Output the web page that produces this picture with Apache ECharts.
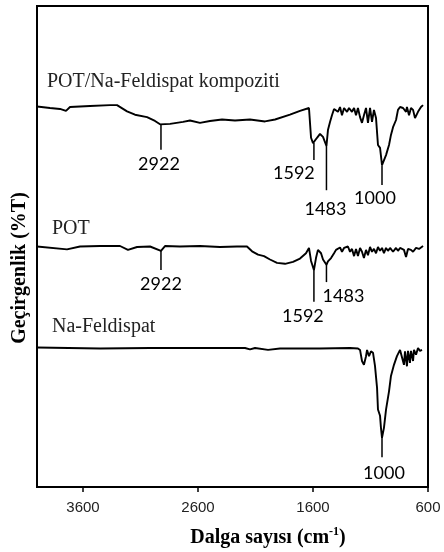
<!DOCTYPE html>
<html>
<head>
<meta charset="utf-8">
<script src="https://cdn.jsdelivr.net/npm/echarts@6/dist/echarts.min.js"></script>
<style>
  html, body { margin: 0; padding: 0; background: #fff; }
  #chart { width: 444px; height: 552px; }
</style>
</head>
<body>
<div id="chart"></div>
<script>
// wavenumber ticks on the reversed x axis
const xTicks = [3600, 2600, 1600, 600];

const seriesNames = ['POT/Na-Feldispat kompoziti', 'POT', 'Na-Feldispat'];

// [wavenumber cm-1, transmittance (arbitrary offset %T)]
const compositeSpectrum = [
  [4000, 79.1], [3887, 78.8], [3800, 78.6], [3748, 78.2], [3713, 79.0], [3539, 79.2],
  [3365, 79.4], [3304, 79.4], [3217, 78.1], [3148, 77.4], [3043, 76.9], [2974, 76.1],
  [2930, 75.4], [2843, 75.5], [2730, 75.9], [2670, 76.2], [2583, 75.7], [2496, 76.1],
  [2391, 76.4], [2278, 76.2], [2148, 76.4], [2017, 76.0], [1930, 76.4], [1800, 77.4],
  [1713, 78.2], [1635, 78.8], [1626, 79.1], [1617, 72.6], [1600, 71.5], [1583, 71.7],
  [1565, 72.6], [1539, 73.4], [1513, 72.8], [1483, 70.9], [1470, 74.2], [1452, 75.9],
  [1435, 77.3], [1417, 78.6], [1400, 79.0], [1383, 78.0], [1365, 79.0], [1348, 77.3],
  [1330, 78.8], [1304, 78.0], [1287, 78.8], [1261, 78.0], [1243, 78.8], [1226, 77.3],
  [1209, 78.8], [1191, 76.9], [1174, 75.7], [1157, 77.3], [1139, 78.8], [1122, 75.7],
  [1104, 78.8], [1087, 75.9], [1070, 78.4], [1052, 76.7], [1035, 71.1], [1017, 70.5],
  [1000, 66.9], [965, 69.0], [939, 71.1], [922, 73.2], [904, 74.8], [878, 76.3],
  [861, 78.4], [843, 79.0], [817, 78.8], [791, 78.0], [783, 79.0], [765, 77.3],
  [748, 78.8], [730, 78.4], [713, 76.7], [687, 78.0], [661, 79.0], [643, 79.4]
];

const potSpectrum = [
  [4000, 50.0], [3739, 49.4], [3626, 50.0], [3452, 50.1], [3278, 50.1], [3209, 49.3],
  [3130, 49.9], [3017, 50.0], [2922, 49.1], [2887, 50.1], [2757, 50.0], [2583, 50.1],
  [2409, 49.9], [2261, 50.0], [2174, 50.0], [2130, 49.0], [2078, 48.3], [2026, 48.0],
  [1974, 47.3], [1913, 46.6], [1843, 46.4], [1774, 46.8], [1713, 47.5], [1661, 48.6],
  [1635, 49.7], [1617, 47.0], [1592, 45.1], [1574, 47.6], [1557, 49.3], [1530, 48.6],
  [1513, 47.3], [1483, 46.2], [1470, 46.9], [1443, 47.6], [1417, 48.6], [1400, 49.3],
  [1383, 49.0], [1365, 49.8], [1348, 48.9], [1330, 49.7], [1313, 49.3], [1296, 50.0],
  [1278, 48.9], [1261, 49.5], [1243, 48.0], [1226, 49.5], [1209, 48.0], [1191, 49.7],
  [1174, 48.9], [1157, 47.6], [1139, 49.3], [1122, 48.2], [1104, 49.9], [1087, 48.9],
  [1070, 49.5], [1052, 48.6], [1035, 49.9], [1017, 49.1], [1000, 49.7], [983, 48.6],
  [965, 49.7], [948, 49.1], [930, 49.7], [904, 48.9], [878, 49.7], [861, 49.1],
  [843, 49.7], [809, 49.3], [791, 47.8], [774, 49.5], [748, 49.3], [730, 48.9],
  [704, 49.7], [678, 49.5], [643, 50.1]
];

const feldsparSpectrum = [
  [4000, 29.0], [3452, 28.8], [3017, 28.9], [2583, 28.9], [2191, 28.9], [2148, 28.6],
  [2104, 28.9], [1991, 28.5], [1887, 28.8], [1713, 28.8], [1539, 28.8], [1278, 28.9],
  [1209, 28.8], [1191, 28.5], [1174, 26.2], [1157, 25.4], [1139, 27.2], [1130, 28.5],
  [1113, 27.2], [1096, 28.2], [1078, 27.9], [1061, 25.2], [1043, 20.6], [1035, 16.1],
  [1017, 14.8], [1009, 12.3], [1000, 10.2], [983, 12.3], [965, 16.1], [939, 19.9],
  [922, 23.1], [896, 25.4], [870, 27.2], [843, 28.5], [826, 28.9], [809, 25.4],
  [800, 28.2], [783, 25.1], [774, 28.3], [757, 25.8], [748, 28.3], [730, 26.2],
  [722, 28.5], [704, 27.5], [687, 28.9], [670, 28.3], [652, 28.5]
];

// peak markers: [wavenumber, top of marker, bottom of marker]
const compositePeaks = [[2922, 75.3, 70.1], [1592, 71.5, 68.0], [1483, 70.9, 61.7], [1000, 66.9, 62.8]];
const potPeaks = [[2922, 49.1, 45.1], [1592, 45.1, 38.5], [1483, 46.2, 42.6]];
const feldsparPeaks = [[1000, 10.2, 6.2]];

// label nudges in px (layout only)
const compositeShift = [[-2, 8], [-20, 7], [-1, 13], [-7, 7]];
const potShift = [[0, 8], [-11, 8], [17, 8]];
const feldsparShift = [[2, 10]];

const chart = echarts.init(document.getElementById('chart'));

function peakSeries(data, shifts) {
  return {
    type: 'custom',
    data: data,
    encode: { x: 0, y: 1 },
    silent: true,
    z: 3,
    renderItem: function (params, api) {
      const top = api.coord([api.value(0), api.value(1)]);
      const bot = api.coord([api.value(0), api.value(2)]);
      const s = shifts[params.dataIndex];
      return {
        type: 'group',
        children: [
          {
            type: 'line',
            shape: { x1: top[0], y1: top[1], x2: bot[0], y2: bot[1] },
            style: { stroke: '#000', lineWidth: 1.5 }
          },
          {
            type: 'text',
            x: bot[0] + s[0],
            y: bot[1] + s[1] - 3,
            style: {
              text: String(api.value(0)),
              font: '18px Lato',
              fill: '#000',
              align: 'center',
              verticalAlign: 'top'
            }
          }
        ]
      };
    }
  };
}

function spectrum(name, data) {
  return {
    name: name,
    type: 'line',
    data: data,
    showSymbol: false,
    smooth: false,
    lineStyle: { color: '#000', width: 1.9 },
    z: 2
  };
}

const serifLabel = '20px "Liberation Serif"';

const option = {
  animation: false,
  grid: {
    left: 37, right: 16, top: 6, bottom: 65,
    show: true, borderColor: '#000', borderWidth: 2
  },
  xAxis: {
    type: 'value',
    inverse: true,
    min: 600,
    max: 4000,
    splitLine: { show: false },
    axisLine: { show: true, lineStyle: { color: '#000', width: 2 } },
    axisTick: { show: true, customValues: xTicks, length: 5, lineStyle: { color: '#000', width: 1.5 } },
    axisLabel: {
      customValues: xTicks,
      formatter: (v) => String(v),
      margin: 13,
      color: '#222',
      fontSize: 15,
      fontFamily: '"Liberation Sans", Arial, sans-serif'
    }
  },
  yAxis: {
    type: 'value',
    min: 0,
    max: 100,
    axisLine: { show: false },
    axisTick: { show: false },
    axisLabel: { show: false },
    splitLine: { show: false }
  },
  graphic: [
    {
      type: 'text', x: 47, y: 82,
      style: { text: seriesNames[0], font: serifLabel, fill: '#222', align: 'left', verticalAlign: 'middle' }
    },
    {
      type: 'text', x: 52, y: 229,
      style: { text: seriesNames[1], font: serifLabel, fill: '#222', align: 'left', verticalAlign: 'middle' }
    },
    {
      type: 'text', x: 52, y: 327,
      style: { text: seriesNames[2], font: serifLabel, fill: '#222', align: 'left', verticalAlign: 'middle' }
    },
    {
      type: 'text', x: 20, y: 268, rotation: Math.PI / 2,
      style: {
        text: 'Geçirgenlik (%T)',
        font: 'bold 20px "Liberation Serif"',
        fill: '#000', align: 'center', verticalAlign: 'middle'
      }
    },
    {
      type: 'text', x: 268, y: 538,
      style: {
        text: '{a|Dalga sayısı (cm}{s|-1}{a|)}',
        align: 'center', verticalAlign: 'middle',
        rich: {
          a: { font: 'bold 20px "Liberation Serif"', fill: '#000', lineHeight: 24 },
          s: { font: 'bold 12px "Liberation Serif"', fill: '#000', lineHeight: 24, verticalAlign: 'top', padding: [0, 0, 8, 0] }
        }
      }
    }
  ],
  series: [
    spectrum(seriesNames[0], compositeSpectrum),
    spectrum(seriesNames[1], potSpectrum),
    spectrum(seriesNames[2], feldsparSpectrum),
    peakSeries(compositePeaks, compositeShift),
    peakSeries(potPeaks, potShift),
    peakSeries(feldsparPeaks, feldsparShift)
  ]
};

chart.setOption(option);
</script>
</body>
</html>
